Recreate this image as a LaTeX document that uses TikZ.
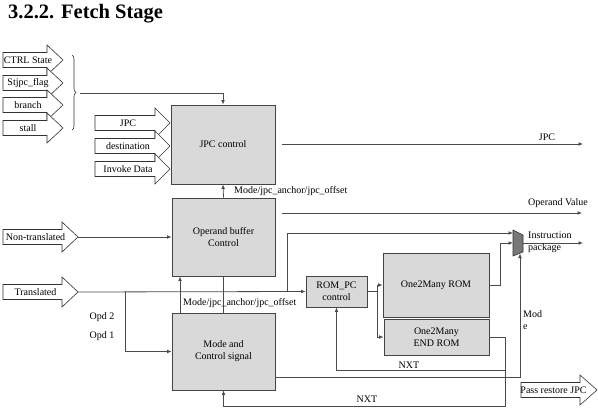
\documentclass[tikz,border=0pt]{standalone}
\usepackage{fontspec}
\setmainfont{Liberation Serif}
\usetikzlibrary{arrows.meta,decorations.pathreplacing,calc}
\definecolor{wirec}{HTML}{4A4A4A}
\definecolor{boxfill}{HTML}{D9D9D9}
\definecolor{boxline}{HTML}{444444}
\definecolor{muxfill}{HTML}{777777}
% name, x0, xbody, xtip, yc, text
\newcommand\BArrow[6]{%
  \draw[barrow] (#2,#5-7.5) -- (#3,#5-7.5) -- (#3,#5-15) -- (#4,#5) -- (#3,#5+15) -- (#3,#5+7.5) -- (#2,#5+7.5) -- cycle;
  \node[lbl] (#1) at ({(#2+#3)/2+3},#5) {#6};
  \coordinate (#1tip) at (#4,#5);
}
\begin{document}
\begin{tikzpicture}[x=1pt,y=-1pt,
  box/.style={draw=boxline, fill=boxfill, line width=0.9pt, align=center, font=\fontsize{10}{12}\selectfont, inner sep=0pt},
  wire/.style={draw=wirec, line width=0.8pt},
  arr/.style={wire, -{Latex[length=4.5pt,width=3.8pt]}},
  lbl/.style={font=\fontsize{10}{12}\selectfont, inner sep=0pt},
  barrow/.style={draw=black!80, fill=white, line width=0.6pt}
]
\useasboundingbox (0,0) rectangle (598,420);

% title
\node[anchor=base west, inner sep=0pt, font=\fontsize{20.5}{24}\selectfont\bfseries] (title) at (8,18.5) {3.2.2. Fetch Stage};

% boxes
\node[box, minimum width=104pt, minimum height=79pt] (jpc) at (223,144.5) {JPC control};
\node[box, minimum width=103pt, minimum height=78pt] (opb) at (223.5,237) {Operand buffer\\Control};
\node[box, minimum width=103pt, minimum height=77pt] (mode) at (223.5,351.5) {Mode and\\Control signal};
\node[box, minimum width=61pt, minimum height=31pt] (rompc) at (336.5,291.5) {ROM\_PC\\control};
\node[box, minimum width=106pt, minimum height=64pt] (rom) at (436,285) {One2Many ROM};
\node[box, minimum width=105pt, minimum height=36pt] (endrom) at (436.5,337) {One2Many\\END ROM};

% multiplexer
\draw[draw=black!80, fill=muxfill, line width=0.6pt] (513,230) -- (523,235) -- (523,252) -- (513,256) -- cycle;
\coordinate (muxA) at (513,233);
\coordinate (muxB) at (513,243);
\coordinate (muxO) at (523,243);
\coordinate (muxS) at (520,253.5);

% block arrows on the left
\BArrow{ctrl}{3}{47}{63}{60}{CTRL State}
\BArrow{stjpc}{3}{47}{63}{83}{Stjpc\_flag}
\BArrow{branch}{3}{47}{63}{105}{branch}
\BArrow{stall}{3}{47}{63}{128}{stall}
\BArrow{jpcin}{95}{155}{170}{123}{JPC}
\BArrow{dest}{95}{155}{170}{146}{destination}
\BArrow{invoke}{95}{155}{170}{169}{Invoke Data}
\BArrow{nontr}{3}{62}{78}{237}{Non-translated}
\BArrow{transl}{3}{62}{78}{292}{Translated}
\BArrow{passr}{521}{580}{597}{390}{Pass restore JPC}

% brace
\draw[black!80, line width=0.6pt, decorate, decoration={brace, amplitude=4pt}] (72,55) -- (72,130);
\coordinate (bt) at (80,93);
\draw[arr] (bt) -| (jpc.north);

% JPC control / operand buffer
\draw[arr] (opb.north) -- (jpc.south);
\node[lbl, anchor=west] (lblA) at (234,191) {Mode/jpc\_anchor/jpc\_offset};

\coordinate (jpcS) at (282,144);
\coordinate (jpcE) at (583,144);
\draw[arr] (jpcS) -- (jpcE);
\node[lbl] (lblJPC) at (547,137) {JPC};

\coordinate (opvS) at (282,213);
\coordinate (opvE) at (582,213);
\draw[arr] (opvS) -- (opvE);
\node[lbl] (lblOpv) at (558,203) {Operand Value};

% inputs
\draw[arr] (nontrtip) -- (opb.west);
\draw[arr] (transltip) -- (rompc.west);
\coordinate (j1) at (125,292);
\draw[arr] (j1) |- (mode.west);
\coordinate (j2) at (287,292);
\draw[arr] (j2) |- (muxA);
\node[lbl] (opd2) at (102,317) {Opd 2};
\node[lbl] (opd1) at (102,336) {Opd 1};

% operand buffer <-> mode
\draw[arr] ([xshift=-43.5pt]mode.north) -- ([xshift=-43.5pt]opb.south);
\draw[wire] (opb.south) -- (mode.north);
\node[lbl, anchor=west] (lblB) at (183,303) {Mode/jpc\_anchor/jpc\_offset};

% ROM_PC to ROMs
\draw[wire] (rompc.east) -- ++(10,0) coordinate (rj);
\draw[arr] (rj) |- (rom.west);
\draw[arr] (rj) |- (endrom.west);

% ROM to mux
\draw[arr] (rom.east) -- ++(11,0) |- (muxB);
\coordinate (muxE) at (583,243);
\draw[arr] (muxO) -- (muxE);
\node[lbl, anchor=west] (lblIns) at (528,235) {Instruction};
\node[lbl, anchor=west] (lblPkg) at (528,248) {package};

% mode to mux
\draw[arr] ($(mode.south east)+(0,-13)$) -| (muxS);
\node[lbl, anchor=west] (lblMod) at (523,314) {Mod};
\node[lbl, anchor=west] (lblE) at (523,327) {e};

% NXT feedback
\coordinate (nj) at (505,370);
\draw[arr] (endrom.east) -| (505,406) -| (mode.south);
\draw[arr] (nj) -| (rompc.south);
\node[lbl] (nxt1) at (409,365) {NXT};
\node[lbl] (nxt2) at (367,399) {NXT};
\end{tikzpicture}
\end{document}
